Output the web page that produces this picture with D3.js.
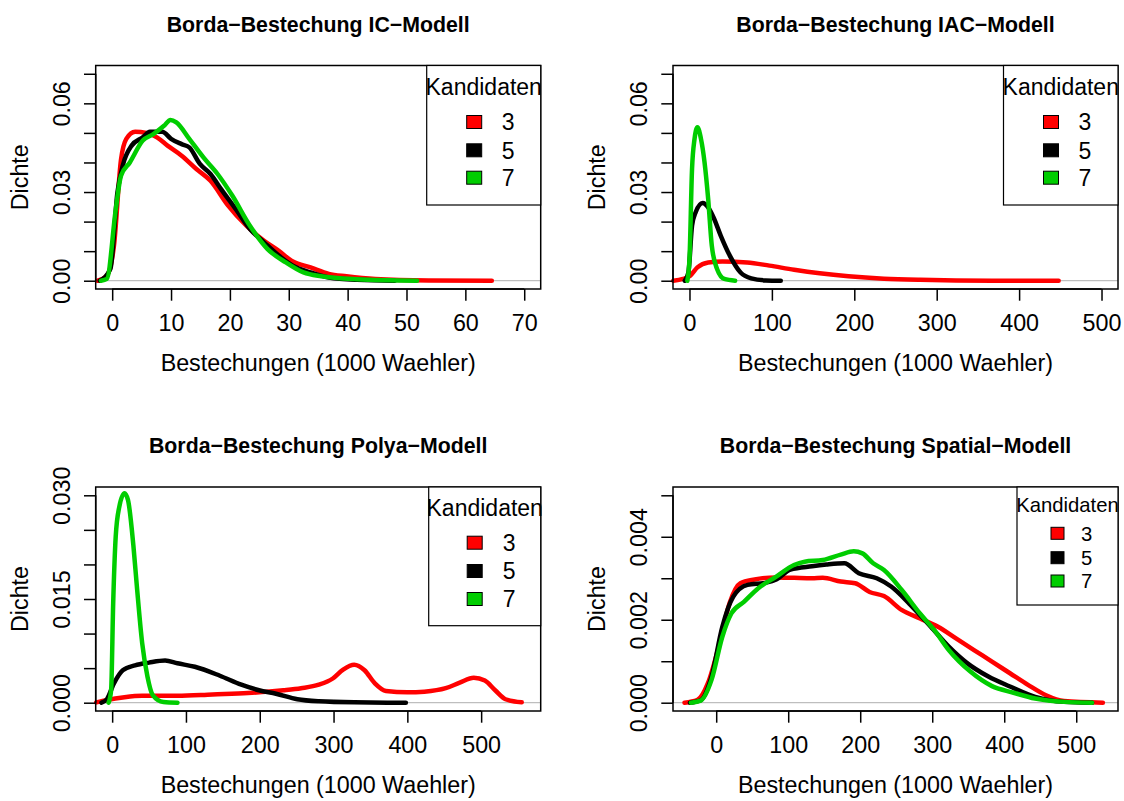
<!DOCTYPE html>
<html>
<head>
<meta charset="utf-8">
<script src="https://cdn.jsdelivr.net/npm/d3@7"></script>
<style>
  body { margin: 0; background: #fff; }
  svg text { font-family: "Liberation Sans", Arial, Helvetica, sans-serif; fill: #000; }
</style>
</head>
<body>
<svg id="chart" width="1124" height="801"></svg>
<script>
// candidates in the legend, one colour each
const candidates = ["3", "5", "7"]
const colors = ["#ff0000", "#000000", "#00cd00"]

const titles = [
    "Borda\u2212Bestechung IC\u2212Modell",
    "Borda\u2212Bestechung IAC\u2212Modell",
    "Borda\u2212Bestechung Polya\u2212Modell",
    "Borda\u2212Bestechung Spatial\u2212Modell"
]
const xLabel = "Bestechungen (1000 Waehler)"
const yLabel = "Dichte"
const legendTitle = "Kandidaten"

// tick values
const icXTicks = [0, 10, 20, 30, 40, 50, 60, 70]
const bigXTicks = [0, 100, 200, 300, 400, 500]
const icYTicks = [0, 0.01, 0.02, 0.03, 0.04, 0.05, 0.06, 0.07]
const icYLabels = ["0.00", "", "", "0.03", "", "", "0.06", ""]
const polyaYTicks = [0, 0.005, 0.01, 0.015, 0.02, 0.025, 0.03]
const polyaYLabels = ["0.000", "", "", "0.015", "", "", "0.030"]
const spatialYTicks = [0, 0.001, 0.002, 0.003, 0.004, 0.005]
const spatialYLabels = ["0.000", "", "0.002", "", "0.004", ""]

// density curves: [x, density]
const icRed = [[-2.5,0],[-0.9,0.0017],[0.3,0.0118],[1.5,0.041],[2.4,0.048],[3.9,0.0504],[5.8,0.05],[7.6,0.0485],[9.4,0.0457],[11.8,0.0423],[14.3,0.0378],[16.7,0.0338],[19.7,0.0254],[22.8,0.0186],[25.8,0.0135],[28.3,0.0101],[30.7,0.0065],[33.7,0.0045],[36.8,0.0023],[39.8,0.0015],[44.7,0.0006],[53.8,0.0001],[64.5,0]]
const icBlack = [[-2.1,0],[-0.3,0.004],[0.9,0.03],[1.8,0.039],[3.3,0.0457],[5.2,0.0485],[6.4,0.0504],[8.5,0.0504],[10,0.048],[11.8,0.0462],[13.1,0.0451],[14.9,0.0395],[16.7,0.0361],[18.5,0.031],[21,0.0242],[23.4,0.0175],[25.8,0.013],[28.3,0.0085],[30.7,0.0051],[33.7,0.0028],[36.8,0.0011],[41.6,0.0003],[48,0]]
const icGreen = [[-1.9,0],[-0.9,0.0006],[0.6,0.024],[1.5,0.0355],[3,0.04],[5.2,0.0474],[7,0.0496],[8.8,0.0524],[9.9,0.0544],[10.9,0.0536],[13.1,0.048],[15.5,0.0417],[17.9,0.0361],[20.4,0.0288],[23.4,0.0186],[26.4,0.0107],[29.5,0.0062],[32.5,0.0028],[35.5,0.0015],[41.6,0.0005],[51.8,0]]

const iacRed = [[-19.6,0],[-7.9,0.0006],[0.9,0.0017],[9.6,0.0045],[22.7,0.0062],[40,0.0065],[70,0.0062],[97,0.0051],[127,0.0037],[158,0.0025],[193,0.0015],[236,0.0007],[280,0.0003],[367,0],[448,0]]
const iacBlack = [[-5.7,0],[-1.3,0.0028],[3.1,0.0186],[7.4,0.0231],[16,0.0263],[22.7,0.0248],[29.2,0.0214],[38,0.0152],[48.9,0.0085],[62,0.0028],[75,0.0008],[92.5,0.0001],[110.8,0]]
const iacGreen = [[-2.6,0],[0,0.0073],[3.1,0.0378],[6.1,0.0479],[9.6,0.0519],[14,0.0479],[18.3,0.04],[22.7,0.0276],[27.1,0.0118],[33.6,0.0039],[42.3,0.0006],[55.4,0]]

const polyaRed = [[-21.5,0.00005],[-7.2,0.0004],[16.7,0.0008],[40.7,0.001],[88.5,0.001],[136,0.0012],[184,0.0014],[232,0.0018],[256,0.0021],[280,0.0026],[299,0.0035],[313,0.0048],[328,0.0055],[342,0.0047],[356,0.0028],[371,0.0017],[400,0.0015],[423,0.0016],[452,0.0021],[471,0.0029],[490,0.0036],[505,0.0032],[519,0.0018],[533,0.0005],[555,0.00005]]
const polyaBlack = [[-14.4,0],[-7.2,0.0005],[2.4,0.0028],[14.4,0.0047],[31,0.0054],[50,0.0058],[71.8,0.0061],[88.5,0.0057],[112,0.0052],[146,0.0039],[175,0.0026],[199,0.0018],[222,0.0013],[251,0.0005],[280,0.0002],[328,0.00005],[398,0]]
const polyaGreen = [[-4.8,0],[-1.4,0.0018],[1.4,0.0144],[4.8,0.024],[9.6,0.0283],[16.7,0.0303],[21.5,0.0293],[28.7,0.0228],[33.5,0.0168],[40.7,0.0086],[47.8,0.0038],[55,0.0011],[69.4,0.0001],[88.5,0]]

const spatialRed = [[-44,0],[-26.5,0.00006],[-11.5,0.00047],[3.5,0.00135],[18.5,0.0024],[33.5,0.00288],[53.4,0.00297],[83.4,0.00302],[108,0.00301],[133,0.003],[148,0.00301],[173,0.00292],[193,0.00288],[213,0.00267],[233,0.00257],[258,0.00223],[283,0.00203],[308,0.00183],[333,0.00155],[358,0.00127],[383,0.00099],[408,0.00071],[433,0.00043],[458,0.00018],[483,0.00004],[537,0]]
const spatialBlack = [[-36.5,0],[-21.5,0.00006],[-6.5,0.00063],[8.5,0.00183],[23.5,0.00255],[43.5,0.00284],[68.4,0.00289],[83.4,0.00297],[103,0.00321],[133,0.00329],[153,0.00333],[178,0.00336],[198,0.00312],[223,0.003],[243,0.0028],[268,0.00239],[298,0.00183],[323,0.00135],[348,0.00096],[378,0.00063],[408,0.00039],[443,0.00014],[483,0.00002],[522,0]]
const spatialGreen = [[-35,0],[-21.5,0.00005],[-6.5,0.00055],[8.5,0.00159],[21,0.00215],[38.5,0.00243],[58.4,0.00276],[83.4,0.00304],[108,0.00332],[123,0.0034],[148,0.00344],[173,0.00357],[191,0.00365],[203,0.0036],[218,0.00336],[233,0.0032],[258,0.00271],[283,0.00215],[303,0.00175],[323,0.00127],[353,0.00075],[383,0.0004],[413,0.00024],[443,0.0001],[483,0.00002],[522,0]]

const fontSize = 23.3

const panels = [
    {title: titles[0], box: [95.7, 540.7, 65.5, 289], xd: [-2.8, 72.8], yd: [-0.0028, 0.0728],
     xt: icXTicks, yt: icYTicks, yl: icYLabels, series: [icRed, icBlack, icGreen],
     leg: {w: 114, h: 139.5, title: 21.5, rows: [56.5, 84.8, 112.2], sq: 47.5, tx: 75, fs: 23, sw: 15, sh: 13}},
    {title: titles[1], box: [673, 1118, 65.5, 289], xd: [-20, 520], yd: [-0.0028, 0.0728],
     xt: bigXTicks, yt: icYTicks, yl: icYLabels, series: [iacRed, iacBlack, iacGreen],
     leg: {w: 114.5, h: 139.5, title: 21.5, rows: [56.5, 84.8, 112.2], sq: 47.5, tx: 75, fs: 23, sw: 15, sh: 13}},
    {title: titles[2], box: [95.7, 540.7, 487, 711], xd: [-22.3, 580.7], yd: [-0.0012, 0.0312],
     xt: bigXTicks, yt: polyaYTicks, yl: polyaYLabels, series: [polyaRed, polyaBlack, polyaGreen],
     leg: {w: 112, h: 138.7, title: 20.3, rows: [55.7, 84, 112], sq: 46, tx: 74, fs: 23, sw: 15, sh: 13}},
    {title: titles[3], box: [673, 1118, 487, 711], xd: [-60, 558], yd: [-0.0002, 0.0052],
     xt: bigXTicks, yt: spatialYTicks, yl: spatialYLabels, series: [spatialRed, spatialBlack, spatialGreen],
     leg: {w: 101, h: 118, title: 17.3, rows: [46.3, 70.7, 94], sq: 40.5, tx: 64, fs: 20.3, sw: 13, sh: 12}}
]

const svg = d3.select("#chart")

panels.forEach(p => {
    const [x0, x1, y0, y1] = p.box
    const x = d3.scaleLinear().domain(p.xd).range([x0, x1])
    const y = d3.scaleLinear().domain(p.yd).range([y1, y0])
    const g = svg.append("g")

    // zero line like plot.density draws it
    g.append("line")
        .attr("x1", x0).attr("x2", x1)
        .attr("y1", y(0)).attr("y2", y(0))
        .attr("stroke", "#bebebe").attr("stroke-width", 1.2)

    const line = d3.line()
        .x(d => x(d[0]))
        .y(d => y(d[1]))
        .curve(d3.curveMonotoneX)

    p.series.forEach((s, i) => {
        g.append("path")
            .attr("d", line(s))
            .attr("fill", "none")
            .attr("stroke", colors[i])
            .attr("stroke-width", 4.5)
            .attr("stroke-linecap", "round")
            .attr("stroke-linejoin", "round")
    })

    // box
    g.append("rect")
        .attr("x", x0).attr("y", y0)
        .attr("width", x1 - x0).attr("height", y1 - y0)
        .attr("fill", "none").attr("stroke", "#000").attr("stroke-width", 1.5)

    // x axis
    const xAxis = d3.axisBottom(x).tickValues(p.xt).tickSize(11.7).tickPadding(0).tickFormat(d3.format("d"))
    const xa = g.append("g").attr("transform", `translate(0,${y1})`).call(xAxis)
    xa.select(".domain").attr("d", `M${x(p.xt[0])},0H${x(p.xt[p.xt.length - 1])}`).attr("stroke-width", 1.5)
    xa.selectAll(".tick line").attr("stroke-width", 1.5)
    xa.selectAll(".tick text")
        .attr("y", 41.5).attr("dy", null)
        .attr("font-size", fontSize)
        .style("font-family", "'Liberation Sans', Arial, sans-serif")

    // y axis, labels parallel to the axis
    const yAxis = d3.axisLeft(y).tickValues(p.yt).tickSize(11.7).tickFormat((d, i) => p.yl[i])
    const ya = g.append("g").attr("transform", `translate(${x0},0)`).call(yAxis)
    ya.select(".domain").attr("d", `M0,${y(p.yt[0])}V${y(p.yt[p.yt.length - 1])}`).attr("stroke-width", 1.5)
    ya.selectAll(".tick line").attr("stroke-width", 1.5)
    ya.selectAll(".tick text")
        .attr("x", null).attr("dy", null)
        .attr("transform", "translate(-26,0) rotate(-90)")
        .attr("text-anchor", "middle")
        .attr("font-size", fontSize)
        .style("font-family", "'Liberation Sans', Arial, sans-serif")

    // axis titles
    g.append("text")
        .attr("x", (x0 + x1) / 2).attr("y", y1 + 82)
        .attr("text-anchor", "middle").attr("font-size", fontSize)
        .text(xLabel)
    g.append("text")
        .attr("transform", `translate(${x0 - 68},${(y0 + y1) / 2}) rotate(-90)`)
        .attr("text-anchor", "middle").attr("font-size", fontSize)
        .text(yLabel)

    // main title
    g.append("text")
        .attr("x", (x0 + x1) / 2).attr("y", y0 - 34)
        .attr("text-anchor", "middle").attr("font-size", 21.3).attr("font-weight", "bold")
        .text(p.title)

    // legend, top right
    const L = p.leg
    const lg = g.append("g").attr("transform", `translate(${x1 - L.w},${y0})`)
    lg.append("rect")
        .attr("width", L.w).attr("height", L.h)
        .attr("fill", "#fff").attr("stroke", "#000").attr("stroke-width", 1.2)
    lg.append("text")
        .attr("x", L.w / 2).attr("y", L.title + L.fs * 0.36)
        .attr("text-anchor", "middle").attr("font-size", L.fs)
        .text(legendTitle)
    candidates.forEach((c, i) => {
        lg.append("rect")
            .attr("x", L.sq - L.sw / 2).attr("y", L.rows[i] - L.sh / 2)
            .attr("width", L.sw).attr("height", L.sh)
            .attr("fill", colors[i]).attr("stroke", "#000").attr("stroke-width", 1)
        lg.append("text")
            .attr("x", L.tx).attr("y", L.rows[i] + L.fs * 0.36)
            .attr("font-size", L.fs)
            .text(c)
    })
})
</script>
</body>
</html>
